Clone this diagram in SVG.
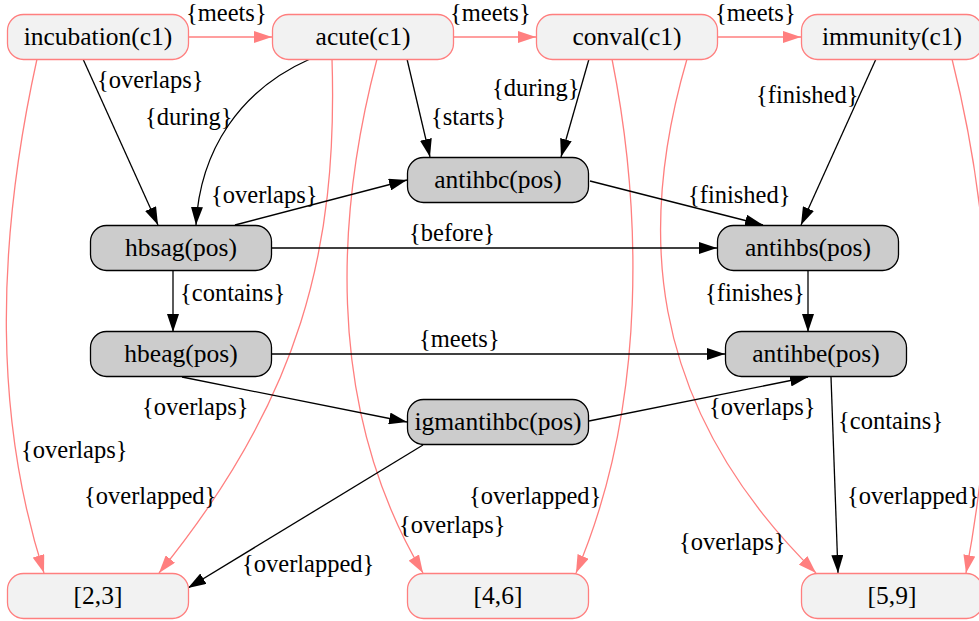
<svg xmlns="http://www.w3.org/2000/svg" width="979" height="621" viewBox="0 0 979 621">
<style>
text{font-family:"Liberation Serif","Times New Roman",serif;font-size:24.5px;fill:#000}
.n text{text-anchor:middle;font-size:25.5px}
.r rect{fill:#f2f2f2;stroke:#ff7f7f;stroke-width:1.3}
.b rect{fill:#cccccc;stroke:#000;stroke-width:1.3}
.e path{fill:none;stroke-width:1.3}
.e .rd{stroke:#ff7f7f;marker-end:url(#ar)}
.e .bk{stroke:#000;marker-end:url(#ab)}
</style>
<defs>
<marker id="ab" viewBox="0 0 18 12" refX="18" refY="6" markerWidth="18" markerHeight="12" markerUnits="userSpaceOnUse" orient="auto"><path d="M0,0 L18,6 L0,12 z" fill="#000"/></marker>
<marker id="ar" viewBox="0 0 18 12" refX="18" refY="6" markerWidth="18" markerHeight="12" markerUnits="userSpaceOnUse" orient="auto"><path d="M0,0 L18,6 L0,12 z" fill="#ff7f7f"/></marker>
</defs>
<g id="edges" class="e">
<path class="rd" d="M188,37 L272,37"/>
<path class="rd" d="M453,37 L536,37"/>
<path class="rd" d="M717,37 L801,37"/>
<path class="rd" d="M37,59 C-5,250 -5,420 44,573"/>
<path class="rd" d="M332,59 C338,250 300,400 159,573"/>
<path class="rd" d="M377,59 C340,200 320,400 423,573"/>
<path class="rd" d="M612,59 C640,200 650,400 576,573"/>
<path class="rd" d="M687,59 C640,220 640,400 816,573"/>
<path class="rd" d="M952,59 C1000,250 995,420 966,573"/>
<path class="bk" d="M83,59 L158,225"/>
<path class="bk" d="M310,59 C240,90 200,150 196,225"/>
<path class="bk" d="M407,59 L430,157"/>
<path class="bk" d="M589,59 L561,157"/>
<path class="bk" d="M876,59 L801,225"/>
<path class="bk" d="M235,225 L407,180"/>
<path class="bk" d="M590,181 L763,225"/>
<path class="bk" d="M272,248 L717,248"/>
<path class="bk" d="M173,271 L173,332"/>
<path class="bk" d="M808,271 L808,332"/>
<path class="bk" d="M272,354 L725,354"/>
<path class="bk" d="M182,377 L407,422"/>
<path class="bk" d="M589,421 L808,377"/>
<path class="bk" d="M831,377 L838,573"/>
<path class="bk" d="M423,445 L188,588"/>
<text x="186" y="21">{meets}</text>
<text x="450" y="21">{meets}</text>
<text x="715" y="21">{meets}</text>
<text x="97" y="88">{overlaps}</text>
<text x="145" y="125">{during}</text>
<text x="431" y="125">{starts}</text>
<text x="492" y="96">{during}</text>
<text x="756" y="103">{finished}</text>
<text x="211" y="203">{overlaps}</text>
<text x="688" y="203">{finished}</text>
<text x="409" y="241">{before}</text>
<text x="180" y="301">{contains}</text>
<text x="705" y="301">{finishes}</text>
<text x="419" y="347">{meets}</text>
<text x="142" y="415">{overlaps}</text>
<text x="709" y="415">{overlaps}</text>
<text x="838" y="429">{contains}</text>
<text x="242" y="572">{overlapped}</text>
<text x="21" y="458">{overlaps}</text>
<text x="84" y="504">{overlapped}</text>
<text x="399" y="533">{overlaps}</text>
<text x="469" y="504">{overlapped}</text>
<text x="679" y="550">{overlaps}</text>
<text x="847" y="504">{overlapped}</text>
</g>
<g id="incubation" class="n r"><rect x="7.5" y="14.5" width="181" height="45" rx="16"/><text x="98" y="45">incubation(c1)</text></g>
<g id="acute" class="n r"><rect x="272.5" y="14.5" width="181" height="45" rx="16"/><text x="363" y="45">acute(c1)</text></g>
<g id="conval" class="n r"><rect x="536.5" y="14.5" width="181" height="45" rx="16"/><text x="627" y="45">conval(c1)</text></g>
<g id="immunity" class="n r"><rect x="801.5" y="14.5" width="181" height="45" rx="16"/><text x="892" y="45">immunity(c1)</text></g>
<g id="antihbc" class="n b"><rect x="407.5" y="157.5" width="181" height="45" rx="16"/><text x="498" y="188">antihbc(pos)</text></g>
<g id="hbsag" class="n b"><rect x="90.5" y="225.5" width="181" height="45" rx="16"/><text x="181" y="256">hbsag(pos)</text></g>
<g id="antihbs" class="n b"><rect x="717.5" y="225.5" width="181" height="45" rx="16"/><text x="808" y="256">antihbs(pos)</text></g>
<g id="hbeag" class="n b"><rect x="90.5" y="331.5" width="181" height="45" rx="16"/><text x="181" y="362">hbeag(pos)</text></g>
<g id="antihbe" class="n b"><rect x="725.5" y="331.5" width="181" height="45" rx="16"/><text x="816" y="362">antihbe(pos)</text></g>
<g id="igmantihbc" class="n b"><rect x="407.5" y="399.5" width="181" height="45" rx="16"/><text x="498" y="430">igmantihbc(pos)</text></g>
<g id="i23" class="n r"><rect x="7.5" y="573.5" width="181" height="45" rx="16"/><text x="98" y="604">[2,3]</text></g>
<g id="i46" class="n r"><rect x="407.5" y="573.5" width="181" height="45" rx="16"/><text x="498" y="604">[4,6]</text></g>
<g id="i59" class="n r"><rect x="801.5" y="573.5" width="181" height="45" rx="16"/><text x="892" y="604">[5,9]</text></g>
</svg>
